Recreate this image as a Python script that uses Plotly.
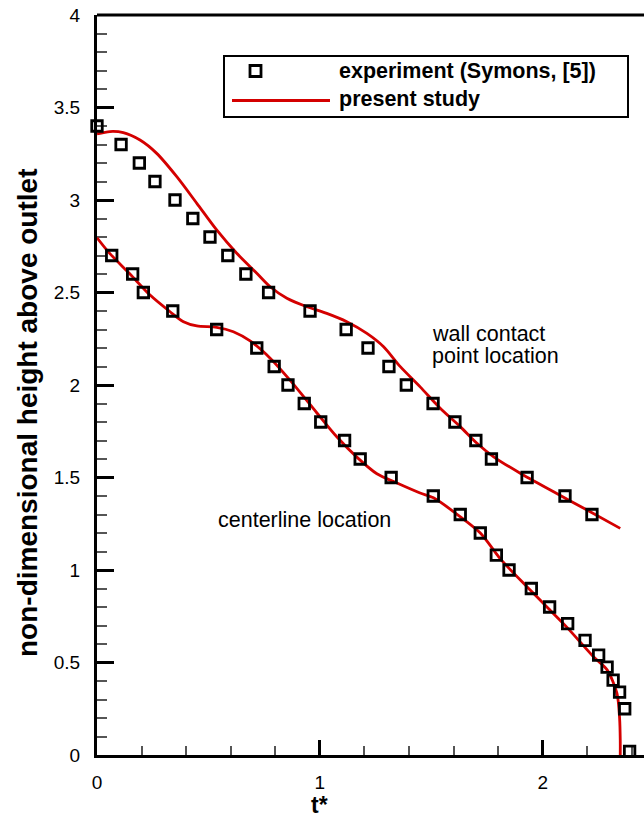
import plotly.graph_objects as go

# ---- data ----
wall_exp_t = [0.0, 0.108, 0.19, 0.26, 0.35, 0.43, 0.507, 0.587, 0.668, 0.77, 0.956,
              1.118, 1.216, 1.31, 1.388, 1.508, 1.606, 1.70, 1.77, 1.93, 2.10, 2.221]
wall_exp_h = [3.4, 3.3, 3.2, 3.1, 3.0, 2.9, 2.8, 2.7, 2.6, 2.5, 2.4,
              2.3, 2.2, 2.1, 2.0, 1.9, 1.8, 1.7, 1.6, 1.5, 1.4, 1.3]

center_exp_t = [0.066, 0.16, 0.208, 0.34, 0.537, 0.717, 0.795, 0.857, 0.93, 1.004, 1.111,
                1.181, 1.32, 1.509, 1.63, 1.72, 1.792, 1.849, 1.949, 2.031, 2.112, 2.19,
                2.251, 2.289, 2.316, 2.345, 2.368, 2.39]
center_exp_h = [2.7, 2.6, 2.5, 2.4, 2.3, 2.2, 2.1, 2.0, 1.9, 1.8, 1.7,
                1.6, 1.5, 1.4, 1.3, 1.2, 1.08, 1.0, 0.9, 0.8, 0.71, 0.62,
                0.54, 0.475, 0.405, 0.34, 0.25, 0.02]

wall_sim_t = [0.0, 0.058, 0.118, 0.193, 0.268, 0.358, 0.448, 0.537, 0.627, 0.717, 0.777,
              0.852, 0.942, 1.031, 1.121, 1.211, 1.286, 1.361, 1.45, 1.54, 1.63, 1.705,
              1.78, 1.899, 2.049, 2.199, 2.348]
wall_sim_h = [3.357, 3.37, 3.364, 3.324, 3.252, 3.126, 2.982, 2.838, 2.712, 2.604, 2.531,
              2.469, 2.423, 2.387, 2.342, 2.279, 2.207, 2.099, 1.99, 1.875, 1.775, 1.685,
              1.612, 1.523, 1.423, 1.324, 1.225]

center_sim_t = [0.0, 0.058, 0.148, 0.238, 0.328, 0.388, 0.448, 0.537, 0.612, 0.687, 0.777,
                0.867, 0.986, 1.076, 1.166, 1.256, 1.346, 1.45, 1.51, 1.60, 1.72, 1.81,
                1.929, 2.019, 2.109, 2.229, 2.289, 2.333, 2.345, 2.348, 2.348]
center_sim_h = [2.796, 2.71, 2.60, 2.486, 2.396, 2.342, 2.319, 2.312, 2.288, 2.238, 2.145,
                2.025, 1.85, 1.72, 1.61, 1.52, 1.47, 1.416, 1.39, 1.315, 1.2, 1.06,
                0.91, 0.80, 0.69, 0.53, 0.46, 0.335, 0.2, 0.08, 0.0]

x_tick_vals = [0, 1, 2]
x_tick_text = ["0", "1", "2"]
y_tick_vals = [0, 0.5, 1, 1.5, 2, 2.5, 3, 3.5, 4]
y_tick_text = ["0", "0.5", "1", "1.5", "2", "2.5", "3", "3.5", "4"]

RED = "#d40000"
FONT = "Liberation Sans, Arial, sans-serif"

fig = go.Figure()
for t, h in [(wall_sim_t, wall_sim_h), (center_sim_t, center_sim_h)]:
    fig.add_trace(go.Scatter(x=t, y=h, mode="lines",
                             line=dict(color=RED, width=2.8, shape="spline", smoothing=0.8),
                             showlegend=False, cliponaxis=False))
for t, h in [(wall_exp_t, wall_exp_h), (center_exp_t, center_exp_h)]:
    fig.add_trace(go.Scatter(x=t, y=h, mode="markers",
                             marker=dict(symbol="square-open", size=10.5, color="black",
                                         line=dict(width=2.8, color="black")),
                             showlegend=False, cliponaxis=False))

L, R, T, B = 97, 0, 15, 67
W, H = 644, 822
pw = W - L - R
ph = H - T - B

def px(xp):
    return (xp - L) / pw

def py(yp):
    return (H - B - yp) / ph

fig.update_layout(
    width=W, height=H,
    margin=dict(l=L, r=R, t=T, b=B, pad=0),
    paper_bgcolor="white", plot_bgcolor="white",
    font=dict(family=FONT, color="black", size=19),
    showlegend=False,
    xaxis=dict(range=[0, pw / 222.85], showgrid=False, zeroline=False,
               showline=True, linewidth=3, linecolor="black",
               tickmode="array", tickvals=x_tick_vals, ticktext=x_tick_text,
               ticks="inside", ticklen=15, tickwidth=3, tickcolor="black",
               ticklabelstandoff=8,
               minor=dict(dtick=0.2, ticks="inside", ticklen=9, tickwidth=1.5,
                          tickcolor="#555555", showgrid=False),
               layer="below traces", tickfont=dict(size=19)),
    yaxis=dict(range=[0, 4], showgrid=False, zeroline=False,
               showline=True, linewidth=3, linecolor="black",
               tickmode="array", tickvals=y_tick_vals, ticktext=y_tick_text,
               ticks="inside", ticklen=17, tickwidth=3, tickcolor="black",
               ticklabelstandoff=10,
               minor=dict(dtick=0.1, ticks="inside", ticklen=10, tickwidth=1.5,
                          tickcolor="#555555", showgrid=False),
               layer="below traces", tickfont=dict(size=19)),
)

shapes = [
    # top frame line
    dict(type="line", xref="paper", yref="paper", x0=0, x1=1, y0=1, y1=1,
         line=dict(color="black", width=3)),
    # legend box
    dict(type="rect", xref="paper", yref="paper", x0=px(224), x1=px(628),
         y0=py(117), y1=py(56), line=dict(color="black", width=2), fillcolor="white",
         layer="above"),
    # legend line
    dict(type="line", xref="paper", yref="paper", x0=px(232), x1=px(330),
         y0=py(100.5), y1=py(100.5), line=dict(color=RED, width=3), layer="above"),
    # legend marker
    dict(type="rect", xref="paper", yref="paper", x0=px(250), x1=px(261),
         y0=py(76.5), y1=py(65.5), line=dict(color="black", width=2.8), layer="above"),
]
fig.update_layout(shapes=shapes)

ann = [
    dict(text="<b>experiment (Symons, [5])</b>", x=px(337), y=py(71),
         xanchor="left", yanchor="middle", font=dict(size=21.5)),
    dict(text="<b>present study</b>", x=px(337), y=py(99),
         xanchor="left", yanchor="middle", font=dict(size=21.5)),
    dict(text="wall contact", x=px(430), y=py(334),
         xanchor="left", yanchor="middle", font=dict(size=21.5)),
    dict(text="point location", x=px(430), y=py(356),
         xanchor="left", yanchor="middle", font=dict(size=21.5)),
    dict(text="centerline location", x=px(216), y=py(520),
         xanchor="left", yanchor="middle", font=dict(size=21.5)),
    dict(text="<b>non-dimensional height above outlet</b>", x=px(27), y=py(413),
         xanchor="center", yanchor="middle", textangle=-90, font=dict(size=28)),
    dict(text="<b>t*</b>", x=px(319), y=py(805),
         xanchor="center", yanchor="middle", font=dict(size=23)),
]
for a in ann:
    a.update(xref="paper", yref="paper", showarrow=False)
fig.update_layout(annotations=ann)

fig.write_html("out.html")
